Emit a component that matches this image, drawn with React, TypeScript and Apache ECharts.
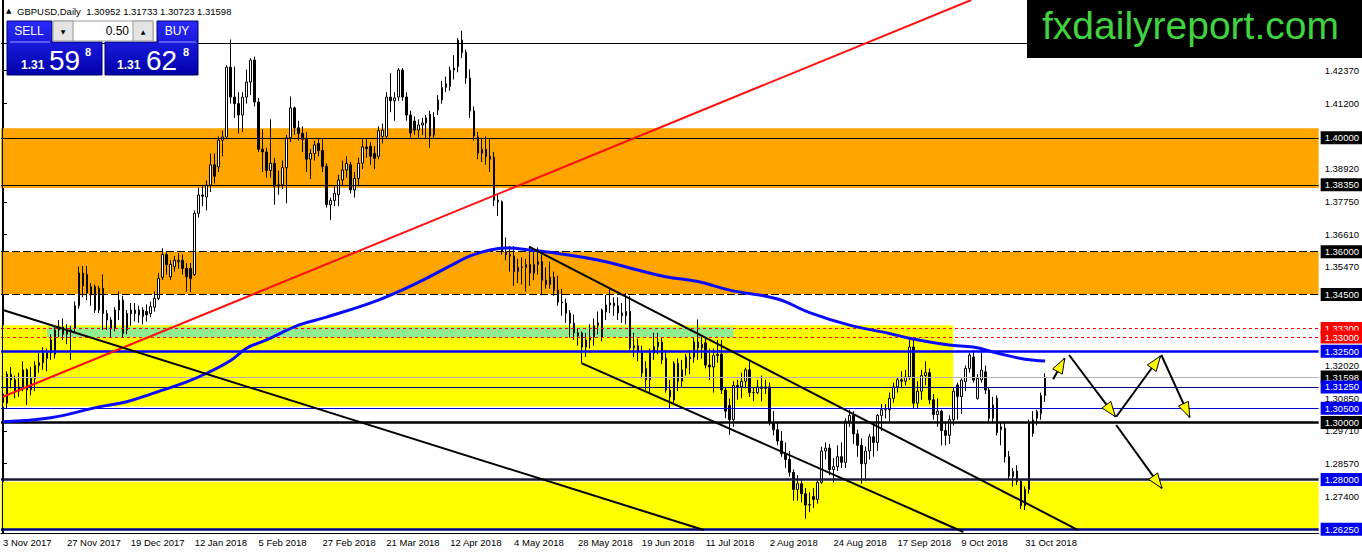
import { useEffect, useRef } from 'react';
import * as echarts from 'echarts';

const FONT = "'Liberation Sans', Arial, sans-serif";
const N_SLOTS = 330;
const MONTHS = ['Jan', 'Feb', 'Mar', 'Apr', 'May', 'Jun', 'Jul', 'Aug', 'Sep', 'Oct', 'Nov', 'Dec'];
const HOLIDAYS = ['2017-12-25', '2018-01-01'];

// [open, close, low, high] per daily bar, 3 Nov 2017 .. 7 Nov 2018
const candles: number[][] = [
  [1.3070, 1.3100, 1.3045, 1.3110], [1.3068, 1.3170, 1.3050, 1.3180], [1.3170, 1.3150, 1.3120, 1.3195], [1.3150, 1.3110, 1.3085, 1.3165],
  [1.3110, 1.3125, 1.3090, 1.3175], [1.3125, 1.3185, 1.3110, 1.3215], [1.3185, 1.3115, 1.3062, 1.3190], [1.3115, 1.3155, 1.3095, 1.3195],
  [1.3155, 1.3200, 1.3110, 1.3215], [1.3200, 1.3210, 1.3175, 1.3245], [1.3210, 1.3245, 1.3185, 1.3265], [1.3225, 1.3245, 1.3180, 1.3260],
  [1.3245, 1.3290, 1.3220, 1.3310], [1.3240, 1.3325, 1.3225, 1.3340], [1.3325, 1.3335, 1.3300, 1.3360], [1.3335, 1.3310, 1.3290, 1.3365],
  [1.3310, 1.3325, 1.3275, 1.3345], [1.3325, 1.3320, 1.3220, 1.3340], [1.3330, 1.3410, 1.3315, 1.3425], [1.3410, 1.3525, 1.3400, 1.3548],
  [1.3525, 1.3480, 1.3440, 1.3550], [1.3520, 1.3455, 1.3430, 1.3550], [1.3448, 1.3477, 1.3410, 1.3490], [1.3477, 1.3395, 1.3385, 1.3485],
  [1.3395, 1.3471, 1.3385, 1.3480], [1.3471, 1.3383, 1.3325, 1.3520], [1.3383, 1.3360, 1.3325, 1.3395], [1.3360, 1.3330, 1.3300, 1.3370],
  [1.3330, 1.3395, 1.3320, 1.3405], [1.3395, 1.3430, 1.3360, 1.3460], [1.3430, 1.3313, 1.3300, 1.3445], [1.3325, 1.3383, 1.3310, 1.3395],
  [1.3395, 1.3383, 1.3340, 1.3420], [1.3395, 1.3383, 1.3355, 1.3420], [1.3395, 1.3378, 1.3350, 1.3410], [1.3395, 1.3372, 1.3345, 1.3405],
  [1.3390, 1.3378, 1.3355, 1.3415], [1.3383, 1.3407, 1.3370, 1.3425], [1.3405, 1.3436, 1.3390, 1.3460], [1.3436, 1.3506, 1.3430, 1.3525],
  [1.3510, 1.3590, 1.3500, 1.3612], [1.3590, 1.3555, 1.3520, 1.3600], [1.3512, 1.3555, 1.3500, 1.3570], [1.3547, 1.3570, 1.3530, 1.3585],
  [1.3565, 1.3570, 1.3540, 1.3595], [1.3570, 1.3541, 1.3520, 1.3590], [1.3541, 1.3512, 1.3460, 1.3560], [1.3541, 1.3506, 1.3458, 1.3560],
  [1.3520, 1.3735, 1.3515, 1.3745], [1.3735, 1.3799, 1.3720, 1.3825], [1.3799, 1.3795, 1.3760, 1.3835], [1.3792, 1.3834, 1.3745, 1.3850],
  [1.3834, 1.3905, 1.3810, 1.3945], [1.3905, 1.3865, 1.3840, 1.3945], [1.3898, 1.3992, 1.3880, 1.4005], [1.3992, 1.4003, 1.3935, 1.4025],
  [1.4003, 1.4248, 1.3995, 1.4255], [1.4248, 1.4143, 1.4120, 1.4345], [1.4143, 1.4120, 1.4070, 1.4250], [1.4120, 1.4080, 1.4015, 1.4160],
  [1.4080, 1.4143, 1.4020, 1.4160], [1.4143, 1.4196, 1.4120, 1.4240], [1.4196, 1.4273, 1.4150, 1.4280], [1.4273, 1.4126, 1.4110, 1.4285],
  [1.4126, 1.3960, 1.3950, 1.4140], [1.3960, 1.3950, 1.3880, 1.4030], [1.3950, 1.3885, 1.3860, 1.3965], [1.3885, 1.3910, 1.3860, 1.4065],
  [1.3910, 1.3830, 1.3765, 1.3930], [1.3830, 1.3835, 1.3800, 1.3885], [1.3835, 1.3895, 1.3820, 1.3920], [1.3895, 1.4000, 1.3770, 1.4010],
  [1.4000, 1.4105, 1.3985, 1.4145], [1.4105, 1.4035, 1.4010, 1.4110], [1.4035, 1.4015, 1.3990, 1.4060], [1.4015, 1.3995, 1.3950, 1.4040],
  [1.3995, 1.3925, 1.3880, 1.4020], [1.3925, 1.3945, 1.3855, 1.3960], [1.3945, 1.3975, 1.3920, 1.3990], [1.3980, 1.3955, 1.3935, 1.4000],
  [1.3955, 1.3900, 1.3880, 1.4000], [1.3900, 1.3765, 1.3755, 1.3910], [1.3765, 1.3780, 1.3711, 1.3790], [1.3780, 1.3805, 1.3760, 1.3830],
  [1.3800, 1.3852, 1.3760, 1.3870], [1.3852, 1.3887, 1.3830, 1.3920], [1.3887, 1.3910, 1.3860, 1.3935], [1.3905, 1.3817, 1.3805, 1.3915],
  [1.3817, 1.3857, 1.3790, 1.3880], [1.3857, 1.3910, 1.3830, 1.3930], [1.3911, 1.3968, 1.3890, 1.3995], [1.3968, 1.3962, 1.3930, 1.4000],
  [1.3970, 1.3935, 1.3905, 1.3985], [1.3945, 1.3928, 1.3890, 1.3970], [1.3935, 1.4025, 1.3925, 1.4040], [1.4005, 1.4027, 1.3980, 1.4050],
  [1.4005, 1.4143, 1.3995, 1.4160], [1.4143, 1.4130, 1.4090, 1.4227], [1.4130, 1.4140, 1.4060, 1.4160], [1.4143, 1.4238, 1.4130, 1.4245],
  [1.4238, 1.4143, 1.4130, 1.4245], [1.4143, 1.4080, 1.4060, 1.4160], [1.4080, 1.4017, 1.4000, 1.4095], [1.4059, 1.4027, 1.4010, 1.4075],
  [1.4027, 1.4045, 1.4000, 1.4065], [1.4045, 1.4052, 1.4010, 1.4070], [1.4052, 1.4070, 1.4000, 1.4080], [1.4082, 1.4006, 1.3965, 1.4095],
  [1.4010, 1.4073, 1.3995, 1.4090], [1.4098, 1.4133, 1.4080, 1.4150], [1.4133, 1.4177, 1.4120, 1.4200], [1.4177, 1.4190, 1.4160, 1.4215],
  [1.4180, 1.4238, 1.4165, 1.4250], [1.4238, 1.4245, 1.4205, 1.4290], [1.4250, 1.4343, 1.4230, 1.4350], [1.4343, 1.4300, 1.4280, 1.4376],
  [1.4300, 1.4210, 1.4190, 1.4310], [1.4210, 1.4094, 1.4070, 1.4240], [1.4094, 1.4006, 1.3990, 1.4110], [1.4003, 1.3946, 1.3925, 1.4020],
  [1.3946, 1.3960, 1.3915, 1.3995], [1.3960, 1.3935, 1.3905, 1.4005], [1.3935, 1.3925, 1.3880, 1.4000], [1.3932, 1.3781, 1.3760, 1.3950],
  [1.3781, 1.3775, 1.3725, 1.3800], [1.3775, 1.3600, 1.3590, 1.3780], [1.3600, 1.3590, 1.3570, 1.3650], [1.3590, 1.3585, 1.3530, 1.3620],
  [1.3585, 1.3530, 1.3480, 1.3620], [1.3530, 1.3545, 1.3490, 1.3575], [1.3545, 1.3545, 1.3485, 1.3580], [1.3545, 1.3555, 1.3460, 1.3575],
  [1.3555, 1.3525, 1.3480, 1.3617], [1.3525, 1.3555, 1.3500, 1.3610], [1.3555, 1.3565, 1.3520, 1.3615], [1.3565, 1.3500, 1.3447, 1.3590],
  [1.3500, 1.3485, 1.3470, 1.3545], [1.3485, 1.3510, 1.3470, 1.3565], [1.3510, 1.3465, 1.3445, 1.3530], [1.3465, 1.3423, 1.3410, 1.3515],
  [1.3423, 1.3420, 1.3375, 1.3470], [1.3420, 1.3384, 1.3350, 1.3435], [1.3384, 1.3349, 1.3298, 1.3395], [1.3349, 1.3315, 1.3290, 1.3380],
  [1.3315, 1.3304, 1.3270, 1.3330], [1.3314, 1.3265, 1.3207, 1.3320], [1.3265, 1.3290, 1.3230, 1.3315], [1.3290, 1.3300, 1.3260, 1.3345],
  [1.3300, 1.3340, 1.3270, 1.3365], [1.3340, 1.3350, 1.3310, 1.3390], [1.3300, 1.3395, 1.3285, 1.3400], [1.3388, 1.3413, 1.3360, 1.3448],
  [1.3413, 1.3420, 1.3385, 1.3470], [1.3420, 1.3410, 1.3375, 1.3440], [1.3410, 1.3385, 1.3360, 1.3440], [1.3385, 1.3375, 1.3350, 1.3420],
  [1.3375, 1.3390, 1.3345, 1.3455], [1.3390, 1.3262, 1.3255, 1.3445], [1.3262, 1.3270, 1.3230, 1.3315], [1.3270, 1.3250, 1.3215, 1.3295],
  [1.3250, 1.3174, 1.3155, 1.3270], [1.3190, 1.3150, 1.3115, 1.3215], [1.3150, 1.3244, 1.3100, 1.3260], [1.3244, 1.3266, 1.3220, 1.3315],
  [1.3266, 1.3283, 1.3240, 1.3315], [1.3283, 1.3220, 1.3205, 1.3300], [1.3226, 1.3114, 1.3105, 1.3255], [1.3114, 1.3090, 1.3050, 1.3150],
  [1.3079, 1.3208, 1.3065, 1.3215], [1.3208, 1.3145, 1.3110, 1.3225], [1.3145, 1.3185, 1.3125, 1.3220], [1.3191, 1.3230, 1.3165, 1.3240],
  [1.3230, 1.3225, 1.3170, 1.3255], [1.3230, 1.3283, 1.3210, 1.3300], [1.3283, 1.3262, 1.3220, 1.3362], [1.3262, 1.3275, 1.3225, 1.3300],
  [1.3280, 1.3202, 1.3190, 1.3300], [1.3202, 1.3195, 1.3150, 1.3260], [1.3195, 1.3235, 1.3105, 1.3260], [1.3235, 1.3240, 1.3210, 1.3290],
  [1.3240, 1.3114, 1.3100, 1.3290], [1.3114, 1.3040, 1.3015, 1.3125], [1.3060, 1.3010, 1.2957, 1.3085], [1.3010, 1.3130, 1.2985, 1.3145],
  [1.3130, 1.3125, 1.3080, 1.3150], [1.3125, 1.3145, 1.3085, 1.3175], [1.3145, 1.3185, 1.3120, 1.3192], [1.3185, 1.3105, 1.3090, 1.3215],
  [1.3105, 1.3105, 1.3075, 1.3125], [1.3105, 1.3125, 1.3100, 1.3150], [1.3125, 1.3120, 1.3075, 1.3165], [1.3120, 1.3125, 1.3100, 1.3150],
  [1.3125, 1.3000, 1.2990, 1.3140], [1.3000, 1.2975, 1.2955, 1.3040], [1.2975, 1.2935, 1.2920, 1.3000], [1.2935, 1.2890, 1.2880, 1.2970],
  [1.2890, 1.2870, 1.2840, 1.2930], [1.2870, 1.2825, 1.2810, 1.2900], [1.2825, 1.2765, 1.2725, 1.2835], [1.2765, 1.2785, 1.2725, 1.2815],
  [1.2785, 1.2750, 1.2720, 1.2800], [1.2750, 1.2710, 1.2662, 1.2770], [1.2710, 1.2712, 1.2685, 1.2755], [1.2740, 1.2730, 1.2700, 1.2770],
  [1.2730, 1.2790, 1.2715, 1.2800], [1.2790, 1.2900, 1.2785, 1.2915], [1.2900, 1.2910, 1.2870, 1.2930], [1.2910, 1.2835, 1.2815, 1.2925],
  [1.2835, 1.2845, 1.2790, 1.2875], [1.2845, 1.2880, 1.2830, 1.2920], [1.2880, 1.2860, 1.2840, 1.2930], [1.2860, 1.3005, 1.2840, 1.3015],
  [1.3005, 1.3025, 1.2985, 1.3045], [1.3025, 1.2960, 1.2925, 1.3040], [1.2960, 1.2920, 1.2880, 1.2975], [1.2920, 1.2855, 1.2785, 1.2945],
  [1.2855, 1.2900, 1.2795, 1.2915], [1.2900, 1.2950, 1.2870, 1.2960], [1.2950, 1.2930, 1.2880, 1.3000], [1.2930, 1.3025, 1.2900, 1.3030],
  [1.3025, 1.3045, 1.2970, 1.3065], [1.3045, 1.3045, 1.3015, 1.3065], [1.3045, 1.3085, 1.3005, 1.3105], [1.3085, 1.3125, 1.3070, 1.3140],
  [1.3125, 1.3150, 1.3105, 1.3160], [1.3150, 1.3145, 1.3120, 1.3180], [1.3145, 1.3160, 1.3130, 1.3185], [1.3160, 1.3265, 1.3150, 1.3298],
  [1.3265, 1.3068, 1.3050, 1.3290], [1.3068, 1.3110, 1.3050, 1.3145], [1.3110, 1.3165, 1.3080, 1.3185], [1.3165, 1.3175, 1.3130, 1.3215],
  [1.3175, 1.3080, 1.3065, 1.3190], [1.3080, 1.3028, 1.3010, 1.3100], [1.3028, 1.3040, 1.2985, 1.3085], [1.3040, 1.2972, 1.2920, 1.3045],
  [1.2972, 1.2955, 1.2920, 1.3000], [1.2955, 1.3010, 1.2925, 1.3025], [1.3010, 1.3110, 1.2990, 1.3125], [1.3132, 1.3091, 1.3010, 1.3140],
  [1.3091, 1.3149, 1.3030, 1.3155], [1.3143, 1.3190, 1.3110, 1.3200], [1.3190, 1.3237, 1.3175, 1.3245], [1.3230, 1.3149, 1.3140, 1.3255],
  [1.3085, 1.3155, 1.3080, 1.3170], [1.3150, 1.3184, 1.3140, 1.3257], [1.3178, 1.3114, 1.3100, 1.3200], [1.3114, 1.3015, 1.3005, 1.3125],
  [1.3015, 1.3062, 1.3000, 1.3090], [1.3085, 1.2965, 1.2955, 1.3095], [1.2975, 1.2985, 1.2920, 1.3000], [1.2980, 1.2880, 1.2860, 1.3000],
  [1.2880, 1.2812, 1.2800, 1.2900], [1.2810, 1.2828, 1.2775, 1.2840], [1.2830, 1.2793, 1.2780, 1.2850], [1.2793, 1.2708, 1.2696, 1.2800],
  [1.2708, 1.2765, 1.2693, 1.2775], [1.2765, 1.2998, 1.2750, 1.3010], [1.3009, 1.2962, 1.2950, 1.3040], [1.3015, 1.3038, 1.2990, 1.3045],
  [1.3031, 1.3095, 1.3010, 1.3105], [1.30952, 1.31598, 1.30723, 1.31733],
];

// moving average: [bar index, price]
const maPoints: number[][] = [
  [0, 1.3003], [12, 1.3017], [24, 1.3055], [31, 1.3073], [37, 1.3100], [46, 1.3143], [51, 1.3173], [57, 1.3218],
  [61, 1.3261], [66, 1.3290], [74, 1.3342], [81, 1.3370], [94, 1.3430], [104, 1.3492], [112, 1.3550], [117, 1.3585],
  [122, 1.3606], [126, 1.3613], [132, 1.3606], [139, 1.3594], [149, 1.3571], [157, 1.3543], [166, 1.3512], [174, 1.3495],
  [182, 1.3465], [194, 1.3434], [202, 1.3386], [212, 1.3342], [222, 1.3313], [227, 1.3296], [237, 1.3272], [243, 1.3265],
  [249, 1.3244], [256, 1.3222], [261, 1.3216],
];

const redTrend = [[0, 1.30906], [242.5, 1.4484]];
const blackTrendLong = [[0, 1.33952], [175.5, 1.26224]];
const channelUpper = [[131.75, 1.36175], [269.25, 1.26224]];
const channelLower = [[145, 1.32079], [240.5, 1.26154]];
// [fromIndex, fromPrice, toIndex, toPrice]
const arrowSegments = [
  [263.0, 1.31517, 265.9, 1.32255],
  [267.0, 1.32371, 278.6, 1.30204],
  [278.8, 1.30204, 289.9, 1.32336],
  [290.1, 1.32371, 297.2, 1.30183],
  [278.8, 1.29912, 290.25, 1.27689],
];

const axisTicks = [1.4237, 1.4120, 1.3892, 1.3775, 1.3661, 1.3547, 1.3202, 1.3085, 1.2971, 1.2857, 1.2740];

const levels = [
  { v: 1.4333, color: '#000000', width: 1, type: 'solid', bg: '' },
  { v: 1.4000, color: '#000000', width: 1, type: 'solid', bg: '#000000' },
  { v: 1.3835, color: '#000000', width: 1, type: 'solid', bg: '#000000' },
  { v: 1.3600, color: '#000000', width: 1, type: [8, 3], bg: '#000000' },
  { v: 1.3450, color: '#000000', width: 1, type: [8, 3], bg: '#000000' },
  { v: 1.3330, color: '#ff0000', width: 1, type: [3, 3], bg: '#ff0000' },
  { v: 1.3300, color: '#ff0000', width: 1, type: [3, 3], bg: '#ff0000' },
  { v: 1.3250, color: '#0000ff', width: 2.5, type: 'solid', bg: '#0000f0' },
  { v: 1.31598, color: '#b4b4b4', width: 1, type: 'solid', bg: '#000000' },
  { v: 1.3125, color: '#00008b', width: 1, type: 'solid', bg: '#0000f0' },
  { v: 1.3050, color: '#0000cd', width: 1, type: 'solid', bg: '#0000f0' },
  { v: 1.3000, color: '#000000', width: 2.5, type: 'solid', bg: '#000000' },
  { v: 1.2800, color: '#1a1a30', width: 2.5, type: 'solid', bg: '#0000f0' },
  { v: 1.2625, color: '#00007a', width: 2.5, type: 'solid', bg: '#0000f0' },
];

// zones: [fromIndex|null, top, toIndex|null, bottom, colour]
const zones: any[] = [
  [null, 1.4034, null, 1.3824, '#ffa500'],
  [null, 1.3600, null, 1.3451, '#ffa500'],
  [-0.5, 1.3342, 238, 1.3056, '#ffff00'],
  [11, 1.3335, 183, 1.3300, '#90ee90'],
  [null, 1.2792, null, 1.2628, '#ffff00'],
];

function buildDates(count: number): string[] {
  const out: string[] = [];
  let t = Date.UTC(2017, 10, 3);
  while (out.length < count) {
    const d = new Date(t);
    const dow = d.getUTCDay();
    const iso = d.toISOString().slice(0, 10);
    if (dow !== 0 && dow !== 6 && !HOLIDAYS.includes(iso)) {
      out.push(`${d.getUTCDate()} ${MONTHS[d.getUTCMonth()]} ${d.getUTCFullYear()}`);
    }
    t += 86400000;
  }
  return out;
}

export default function App() {
  const ref = useRef<HTMLDivElement>(null);
  useEffect(() => {
    if (!ref.current) return;
    const chart = echarts.init(ref.current, undefined, { renderer: 'svg' });
    const dates = buildDates(candles.length);
    const categories = dates.concat(new Array(N_SLOTS - dates.length).fill(''));
    const labelInterval = (index: number, value: string) => value !== '' && index % 16 === 0;

    const lineSeries = (data: number[][], color: string, width: number, z = 4) => ({
      type: 'line', xAxisIndex: 1, yAxisIndex: 0, data, symbol: 'none', silent: true,
      lineStyle: { color, width }, z, animation: false,
    });

    const markAreaData = zones.map((zn) => {
      const a: any = { yAxis: zn[1], itemStyle: { color: zn[4], opacity: 1 } };
      const b: any = { yAxis: zn[3] };
      if (zn[0] !== null) { a.xAxis = zn[0]; b.xAxis = zn[2]; }
      return [a, b];
    });

    const option: any = {
      animation: false,
      backgroundColor: '#ffffff',
      grid: { left: 1, right: 43, top: 0, bottom: 21, containLabel: false },
      xAxis: [
        {
          type: 'category', data: categories, boundaryGap: true,
          axisLine: { lineStyle: { color: '#000', width: 1 } },
          axisTick: { alignWithLabel: true, interval: labelInterval, length: 4, lineStyle: { color: '#000' } },
          axisLabel: { interval: labelInterval, align: 'left', color: '#000', fontSize: 9.5, fontFamily: FONT, margin: 4 },
          splitLine: { show: false },
        },
        { type: 'value', min: -0.5, max: N_SLOTS - 0.5, show: false, splitLine: { show: false } },
      ],
      yAxis: {
        type: 'value', position: 'right', min: 1.2612, max: 1.4484,
        axisLine: { show: true, lineStyle: { color: '#000' } },
        axisTick: { show: true, customValues: axisTicks, length: 4, lineStyle: { color: '#000' } },
        axisLabel: { customValues: axisTicks, formatter: (v: number) => v.toFixed(5), color: '#000', fontSize: 9.5, fontFamily: FONT, margin: 6 },
        splitLine: { show: false },
      },
      series: [
        {
          type: 'candlestick', xAxisIndex: 0, yAxisIndex: 0, data: candles, barWidth: 2, z: 2, silent: true,
          itemStyle: { color: '#ffffff', color0: '#000000', borderColor: '#000000', borderColor0: '#000000', borderWidth: 1 },
          markLine: {
            silent: true, symbol: ['none', 'none'], animation: false, z: 3, precision: 5,
            data: levels.map((l) => ({
              yAxis: l.v,
              lineStyle: { color: l.color, width: l.width, type: l.type },
              label: l.bg
                ? { show: true, position: 'end', formatter: l.v.toFixed(5), color: '#fff', backgroundColor: l.bg, padding: [2, 4, 1, 4], fontSize: 9.5, fontFamily: FONT, distance: 2 }
                : { show: false },
            })),
          },
        },
        lineSeries(maPoints, '#0a0aff', 3, 3),
        {
          ...lineSeries(redTrend, '#ff1010', 2),
          markArea: { silent: true, animation: false, data: markAreaData },
        },
        lineSeries(blackTrendLong, '#000000', 2),
        lineSeries(channelUpper, '#000000', 2),
        lineSeries(channelLower, '#000000', 2),
        ...arrowSegments.map((s) => lineSeries([[s[0], s[1]], [s[2], s[3]]], '#000000', 2, 6)),
      ],
    };
    option.series[1].smooth = 0.4;
    chart.setOption(option);

    const heads: any[] = arrowSegments.map((s) => {
      const p1 = chart.convertToPixel({ seriesIndex: 1 }, [s[0], s[1]]) as number[];
      const p2 = chart.convertToPixel({ seriesIndex: 1 }, [s[2], s[3]]) as number[];
      const dx = p2[0] - p1[0];
      const dy = p2[1] - p1[1];
      const len = Math.sqrt(dx * dx + dy * dy) || 1;
      const ux = dx / len, uy = dy / len;
      const L = 15, W = 5.5;
      const bx = p2[0] - ux * L, by = p2[1] - uy * L;
      return {
        type: 'polygon', z: 50,
        shape: { points: [[p2[0], p2[1]], [bx - uy * W, by + ux * W], [bx + uy * W, by - ux * W]] },
        style: { fill: '#ffff00', stroke: '#000', lineWidth: 1 },
      };
    });

    const grad = { type: 'linear', x: 0, y: 0, x2: 0, y2: 1, colorStops: [{ offset: 0, color: '#2a2aff' }, { offset: 1, color: '#0000a8' }] };
    const white = '#ffffff';
    const panel: any[] = [
      { type: 'line', z: 40, shape: { x1: 2.5, y1: 0, x2: 2.5, y2: 533 }, style: { stroke: '#000', lineWidth: 1 } },
      { type: 'text', z: 100, style: { x: 6, y: 11, text: '▲', fontSize: 7, fill: '#000', fontFamily: 'DejaVu Sans', verticalAlign: 'middle' } },
      { type: 'text', z: 100, style: { x: 17, y: 11, text: 'GBPUSD,Daily  1.30952 1.31733 1.30723 1.31598', fontSize: 9.5, fill: '#000', fontFamily: FONT, verticalAlign: 'middle' } },
      { type: 'polygon', z: 100, shape: { points: [[7, 21], [52, 21], [52, 42], [102, 42], [102, 75], [7, 75]] }, style: { fill: grad, stroke: '#00006a', lineWidth: 1 } },
      { type: 'polygon', z: 100, shape: { points: [[157, 21], [198, 21], [198, 75], [105, 75], [105, 42], [157, 42]] }, style: { fill: grad, stroke: '#00006a', lineWidth: 1 } },
      { type: 'line', z: 101, shape: { x1: 10, y1: 42, x2: 50, y2: 42 }, style: { stroke: '#9a9aff', lineWidth: 1 } },
      { type: 'line', z: 101, shape: { x1: 159, y1: 42, x2: 196, y2: 42 }, style: { stroke: '#9a9aff', lineWidth: 1 } },
      { type: 'rect', z: 100, shape: { x: 53, y: 21, width: 100, height: 20 }, style: { fill: '#ffffff', stroke: '#9a9a9a', lineWidth: 1 } },
      { type: 'rect', z: 101, shape: { x: 53, y: 21, width: 20, height: 20 }, style: { fill: '#e4e4e4', stroke: '#9a9a9a', lineWidth: 1 } },
      { type: 'rect', z: 101, shape: { x: 133, y: 21, width: 20, height: 20 }, style: { fill: '#e4e4e4', stroke: '#9a9a9a', lineWidth: 1 } },
      { type: 'text', z: 102, style: { x: 63, y: 31, text: '▼', fontSize: 6, fill: '#000', fontFamily: 'DejaVu Sans', align: 'center', verticalAlign: 'middle' } },
      { type: 'text', z: 102, style: { x: 143, y: 31, text: '▲', fontSize: 6, fill: '#000', fontFamily: 'DejaVu Sans', align: 'center', verticalAlign: 'middle' } },
      { type: 'text', z: 102, style: { x: 129, y: 31, text: '0.50', fontSize: 12, fill: '#000', fontFamily: FONT, align: 'right', verticalAlign: 'middle' } },
      { type: 'text', z: 102, style: { x: 29, y: 31, text: 'SELL', fontSize: 12, fill: white, fontFamily: FONT, align: 'center', verticalAlign: 'middle' } },
      { type: 'text', z: 102, style: { x: 177, y: 31, text: 'BUY', fontSize: 12, fill: white, fontFamily: FONT, align: 'center', verticalAlign: 'middle' } },
      { type: 'text', z: 102, style: { x: 21, y: 65, text: '1.31', fontSize: 12, fontWeight: 'bold', fill: white, fontFamily: FONT, verticalAlign: 'middle' } },
      { type: 'text', z: 102, style: { x: 49, y: 60, text: '59', fontSize: 28, fill: white, fontFamily: FONT, verticalAlign: 'middle' } },
      { type: 'text', z: 102, style: { x: 85, y: 52, text: '8', fontSize: 11, fontWeight: 'bold', fill: white, fontFamily: FONT, verticalAlign: 'middle' } },
      { type: 'text', z: 102, style: { x: 117, y: 65, text: '1.31', fontSize: 12, fontWeight: 'bold', fill: white, fontFamily: FONT, verticalAlign: 'middle' } },
      { type: 'text', z: 102, style: { x: 146, y: 60, text: '62', fontSize: 28, fill: white, fontFamily: FONT, verticalAlign: 'middle' } },
      { type: 'text', z: 102, style: { x: 183, y: 52, text: '8', fontSize: 11, fontWeight: 'bold', fill: white, fontFamily: FONT, verticalAlign: 'middle' } },
      { type: 'rect', z: 100, shape: { x: 1027, y: 0, width: 335, height: 58 }, style: { fill: '#000000' } },
      { type: 'text', z: 101, style: { x: 1042, y: 25, text: 'fxdailyreport.com', fontSize: 39, fill: '#3fd43f', fontFamily: FONT, verticalAlign: 'middle' } },
    ];
    chart.setOption({ graphic: { elements: [...heads, ...panel] } });
    return () => chart.dispose();
  }, []);
  return <div ref={ref} style={{ position: 'fixed', left: 0, top: 0, width: 1362, height: 554, background: '#fff' }} />;
}
